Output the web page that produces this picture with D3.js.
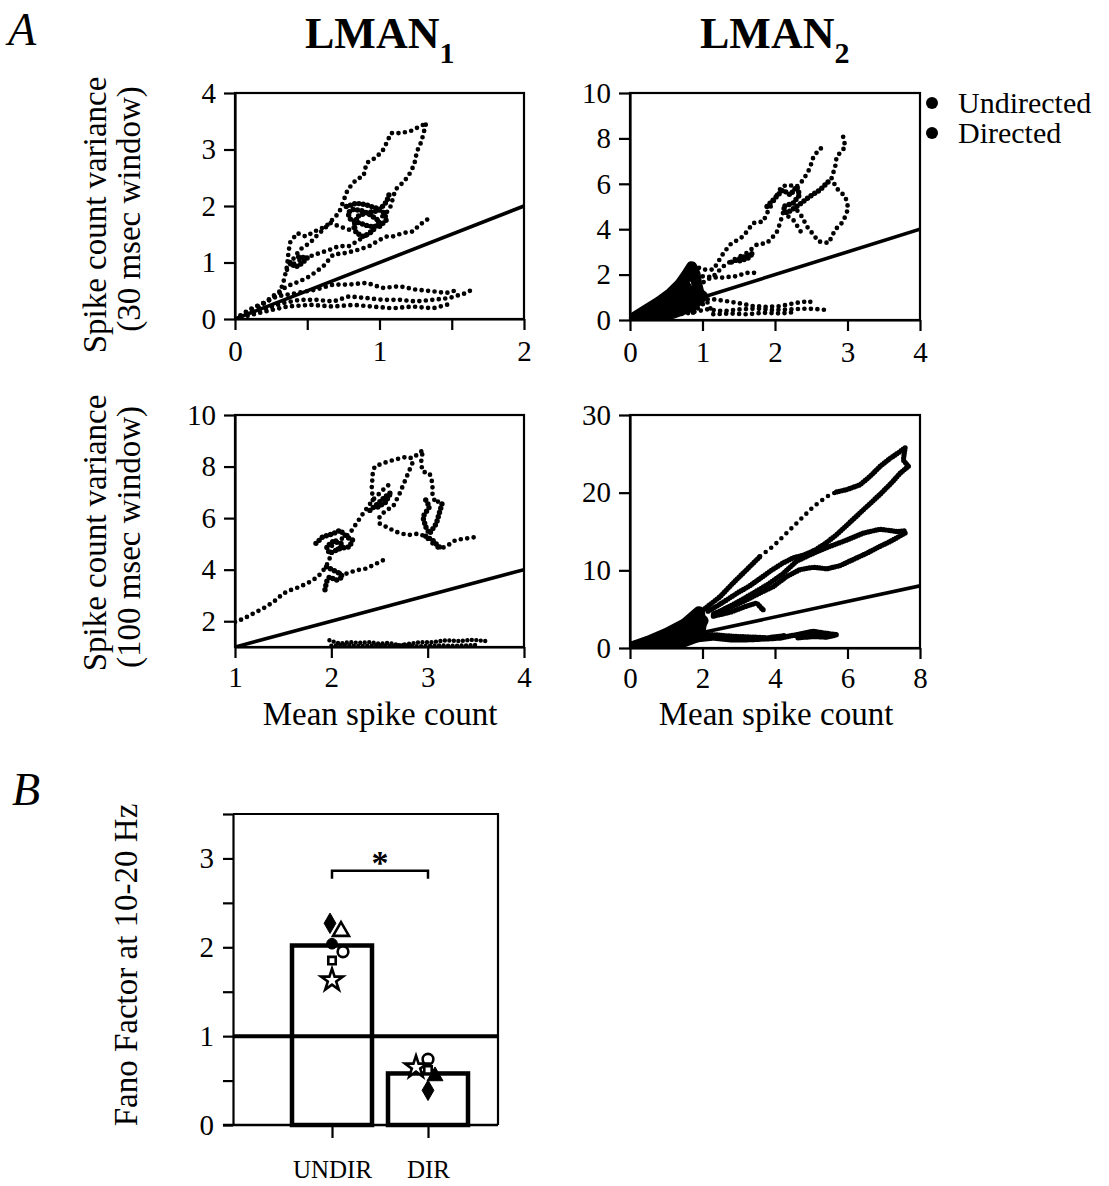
<!DOCTYPE html>
<html>
<head>
<meta charset="utf-8">
<script src="https://cdn.jsdelivr.net/npm/d3@7"></script>
<style>
  body { margin: 0; background: #fff; }
  svg text { font-family: "Liberation Serif", "Times New Roman", serif; fill: #000; }
</style>
</head>
<body>
<svg id="fig" width="1109" height="1186"></svg>
<script>
// ---------- data ----------
// A1: LMAN1, 30 msec window  (x: mean count, y: variance)
const a1Undirected = [
  [[0,0],[0.10,0.17],[0.22,0.31],[0.31,0.46],[0.34,0.70],[0.36,0.93],[0.37,1.17],[0.38,1.35],[0.43,1.52],[0.49,1.46],[0.55,1.55],[0.63,1.64],[0.72,1.88],[0.78,2.29],[0.84,2.47],[0.89,2.53],[0.91,2.76],[0.97,2.85],[1.02,2.97],[1.05,3.12],[1.08,3.29],[1.14,3.29],[1.21,3.32],[1.28,3.41],[1.34,3.48]],
  [[1.32,3.44],[1.29,3.14],[1.26,2.97],[1.24,2.73],[1.20,2.53],[1.16,2.41],[1.11,2.29],[1.09,2.11],[1.07,1.94],[1.02,1.82],[0.98,1.70],[0.93,1.52],[0.86,1.40],[0.79,1.29],[0.72,1.29],[0.66,1.23],[0.59,1.17],[0.52,1.11],[0.45,1.05],[0.38,0.93]],
  [[1.33,1.76],[1.28,1.67],[1.23,1.55],[1.16,1.52],[1.09,1.46],[1.05,1.46],[1.00,1.40],[0.93,1.29],[0.86,1.23],[0.77,1.17],[0.68,1.14],[0.61,0.93],[0.52,0.76],[0.45,0.67],[0.36,0.58],[0.26,0.40],[0.15,0.17]],
  [[0.36,0.87],[0.40,1.05],[0.45,1.23],[0.52,1.35],[0.56,1.46],[0.61,1.58],[0.66,1.70],[0.72,1.64],[0.79,1.58],[0.86,1.64]]
];
const a1Cluster = [
  [[0.77,1.99],[0.84,2.05],[0.91,2.02],[0.98,1.96],[1.03,1.88],[1.05,1.76],[1.00,1.64],[0.93,1.64],[0.86,1.70],[0.80,1.76],[0.78,1.88],[0.82,1.94],[0.89,1.91],[0.95,1.82],[1.00,1.73],[0.95,1.55],[0.89,1.46],[0.84,1.52],[0.82,1.64],[0.85,1.82],[0.91,1.88],[0.98,1.91],[1.02,1.99],[1.05,2.08],[1.07,2.23]],
  [[0.38,1.00],[0.42,0.92],[0.46,0.98],[0.50,1.08],[0.44,1.10]]
];
const a1Directed = [
  [[0,0],[0.10,0.11],[0.22,0.19],[0.33,0.28],[0.45,0.34],[0.56,0.34],[0.68,0.31],[0.79,0.40],[0.91,0.37],[1.02,0.34],[1.14,0.34],[1.25,0.31],[1.37,0.34],[1.48,0.37],[1.60,0.46],[1.64,0.52]],
  [[0,0],[0.15,0.22],[0.29,0.40],[0.43,0.46],[0.56,0.52],[0.68,0.61],[0.79,0.61],[0.91,0.64],[1.02,0.55],[1.14,0.58],[1.25,0.52],[1.37,0.49],[1.46,0.46],[1.55,0.52]],
  [[0,0],[0.17,0.11],[0.36,0.22],[0.52,0.25],[0.68,0.22],[0.82,0.25],[0.95,0.22],[1.09,0.19],[1.23,0.22],[1.37,0.19],[1.51,0.28]]
];

// A2: LMAN2, 30 msec window
const a2Undirected = [
  [[0,0],[0.23,0.47],[0.41,0.91],[0.60,1.20],[0.74,1.78],[0.83,2.30],[0.90,2.37],[1.01,2.22],[1.15,2.22],[1.29,2.95],[1.38,3.32],[1.56,3.68],[1.70,4.27],[1.84,4.34],[1.89,4.71],[1.98,5.22],[2.09,5.88],[2.18,5.95],[2.30,5.88],[2.39,6.17],[2.48,6.68],[2.53,7.19],[2.62,7.56],[2.71,7.56]],
  [[2.94,8.07],[2.97,7.63],[2.85,7.19],[2.83,6.75],[2.78,6.24],[2.85,5.80],[2.97,5.44],[3.01,4.93],[2.97,4.56],[2.92,4.27],[2.83,3.98],[2.74,3.39],[2.60,3.46],[2.53,3.76],[2.44,4.12],[2.37,4.56],[2.30,4.85]],
  [[0.69,1.20],[0.92,1.49],[1.15,1.93],[1.29,2.37],[1.43,2.66],[1.61,2.95],[1.75,3.32],[1.89,3.39],[2.02,3.83],[2.07,4.27],[2.11,4.71],[2.25,4.42],[2.34,3.98],[2.39,3.68]],
  [[0.83,1.78],[1.01,1.93],[1.24,1.86],[1.47,1.93],[1.61,2.08],[1.72,2.08]]
];
const a2Cluster = [
  [[1.89,5.00],[2.02,5.44],[2.11,5.73],[2.21,5.51],[2.30,5.88],[2.34,5.51],[2.25,5.15],[2.11,5.00],[2.16,4.71],[2.30,5.00],[2.48,5.44],[2.62,5.73],[2.76,6.17]],
  [[1.40,2.55],[1.55,2.75],[1.70,2.95],[1.62,2.70],[1.50,2.60]]
];
const a2Blob = [
  [[0,0],[0.20,0.40],[0.40,0.80],[0.55,1.15],[0.68,1.55],[0.78,2.00],[0.85,2.35],[0.90,2.00],[0.92,1.60],[0.95,1.20],[0.90,0.90],[0.75,0.70],[0.55,0.50],[0.35,0.30],[0.15,0.10]],
  [[0.10,0.10],[0.30,0.50],[0.50,0.85],[0.65,1.20],[0.75,1.60],[0.80,1.30],[0.85,0.90],[0.70,0.55],[0.50,0.35],[0.30,0.20]],
  [[0.20,0.20],[0.45,0.60],[0.60,0.90],[0.75,1.10],[0.90,1.30],[1.00,1.05],[0.85,0.60],[0.60,0.30],[0.40,0.15]]
];
const a2Directed = [
  [[0,0],[0.46,0.15],[0.83,0.32],[1.06,0.47],[1.29,0.39],[1.52,0.47],[1.75,0.50],[1.98,0.44],[2.21,0.47],[2.44,0.50],[2.62,0.47],[2.71,0.44]],
  [[0.83,1.20],[0.97,0.91],[1.15,0.91],[1.33,0.83],[1.52,0.73],[1.70,0.61],[1.89,0.58],[2.07,0.61],[2.30,0.76],[2.48,0.83],[2.53,0.61]],
  [[0.87,0.32],[0.97,0.61],[1.06,0.83],[1.15,0.25],[1.38,0.29],[1.61,0.25],[1.84,0.32],[2.07,0.29],[2.30,0.35]]
];

// A3: LMAN1, 100 msec window
const a3Undirected = [
  [[1.00,1.97],[1.09,2.10],[1.19,2.30],[1.29,2.49],[1.40,2.75],[1.50,3.07],[1.57,3.20],[1.67,3.33],[1.78,3.53],[1.86,3.72],[1.93,4.04],[1.98,4.37],[2.00,4.89],[2.05,5.15],[2.12,5.21],[2.19,5.40],[2.26,5.79],[2.33,6.18],[2.38,6.44],[2.43,6.70],[2.50,6.96],[2.57,7.22],[2.64,7.40]],
  [[2.43,6.70],[2.42,7.20],[2.43,7.74],[2.45,8.00],[2.53,8.12],[2.64,8.25],[2.78,8.38],[2.84,8.32],[2.91,8.51],[2.95,8.64],[2.93,8.12],[2.95,7.80],[3.02,7.74],[3.05,7.35],[3.05,6.83],[3.09,6.57],[3.12,6.70]],
  [[2.84,8.12],[2.71,6.96],[2.64,6.44],[2.57,6.31],[2.50,6.05],[2.50,5.79],[2.57,5.66],[2.67,5.47],[2.79,5.34],[2.91,5.40],[2.98,5.27],[3.05,5.02],[3.12,4.82],[3.19,4.89],[3.29,5.15],[3.40,5.21],[3.50,5.27]],
  [[2.09,3.85],[2.16,3.85],[2.26,3.98],[2.36,4.04],[2.47,4.24],[2.57,4.43]]
];
const a3Cluster = [
  [[1.84,5.02],[1.91,5.27],[2.02,5.40],[2.09,5.53],[2.16,5.27],[2.22,5.15],[2.19,4.89],[2.09,4.82],[1.98,4.63],[1.95,4.89],[2.02,5.10],[2.12,5.00],[2.05,4.70]],
  [[1.95,4.11],[2.02,3.98],[2.09,3.85],[2.12,3.72],[2.05,3.59],[1.98,3.72],[1.95,3.53],[1.93,3.14]],
  [[2.98,6.70],[3.02,6.44],[2.95,6.05],[2.98,5.66],[3.02,5.40],[3.09,5.79],[3.12,6.18],[3.16,6.70]],
  [[2.40,6.30],[2.48,6.55],[2.55,6.80],[2.62,7.00],[2.56,6.60],[2.47,6.40]],
  [[2.98,5.30],[3.05,5.15],[3.10,4.95],[3.15,4.80]]
];
const a3Directed = [
  [[1.98,1.26],[2.09,1.13],[2.19,1.19],[2.29,1.16],[2.40,1.19],[2.50,1.13],[2.60,1.16],[2.71,1.06],[2.81,1.13],[2.91,1.18],[3.05,1.19],[3.19,1.26],[3.33,1.23],[3.47,1.28],[3.60,1.23]],
  [[2.00,1.05],[2.15,1.08],[2.30,1.03],[2.45,1.07],[2.60,1.04],[2.75,1.08],[2.90,1.03],[3.10,1.06],[3.30,1.05],[3.50,1.08]]
];

// A4: LMAN2, 100 msec window
const a4Undirected = [
  [[0,0],[0.92,1.5],[1.66,3.2],[2.02,4.9],[2.48,6.6],[2.85,8.4],[3.22,10.1],[3.59,11.8]],
  [[5.70,20.1],[5.98,20.4],[6.34,21.0],[6.62,22.1],[6.90,23.4],[7.17,24.4],[7.45,25.3],[7.59,25.8],[7.54,24.2],[7.68,23.4]],
  [[7.68,23.4],[7.45,22.5],[7.20,21.2],[6.90,19.8],[6.60,18.5],[6.30,17.2],[6.00,15.9],[5.70,14.6],[5.40,13.5],[5.10,12.6],[4.80,12.0],[4.50,11.6],[4.20,10.9],[3.90,10.0],[3.60,9.0],[3.30,8.0],[3.00,7.2],[2.70,6.3],[2.40,5.4],[2.10,4.6]],
  [[2.30,4.3],[2.80,5.5],[3.30,6.8],[3.80,8.2],[4.20,9.5],[4.60,11.2],[5.06,12.2],[5.52,13.1],[5.98,13.9],[6.44,14.8],[6.90,15.3],[7.36,15.0],[7.59,15.1]],
  [[7.59,14.8],[7.17,13.7],[6.90,13.1],[6.53,12.2],[6.16,11.4],[5.79,10.6],[5.43,10.2],[5.06,10.4],[4.69,10.1],[4.32,9.2],[3.95,7.9],[3.59,7.1],[3.22,6.2],[2.76,5.2],[2.30,4.4]],
  [[2.30,4.1],[2.76,4.6],[3.22,5.4],[3.49,5.8],[3.68,4.9],[3.60,5.2]]
];
const a4Sparse = [
  [[3.59,11.8],[3.95,13.1],[4.32,14.8],[4.69,16.5],[5.06,18.2],[5.43,19.5],[5.70,20.1]]
];
const a4Blob = [
  [[0,0],[0.5,0.8],[1.0,1.8],[1.5,3.0],[1.9,4.6],[1.95,3.0],[1.9,1.6],[1.5,0.9],[1.0,0.5],[0.5,0.2]],
  [[0,0],[1.0,1.2],[1.6,2.4],[2.0,3.5],[1.8,2.2],[1.3,1.3],[0.8,0.6]]
];
const a4Directed = [
  [[0,0],[0.92,0.43],[1.84,1.07],[2.30,1.29],[2.76,1.07],[3.22,1.07],[3.68,1.16],[4.14,1.29],[4.60,1.71],[5.06,2.14],[5.33,1.93],[5.70,1.71],[5.43,1.41],[5.06,1.50],[4.60,1.30]],
  [[1.80,1.60],[2.30,1.70],[2.80,1.50],[3.30,1.40],[3.80,1.30],[4.30,1.60]]
];

// B: Fano factor at 10-20 Hz
const fanoCategories = ["UNDIR", "DIR"];
const fanoMeans = [2.02, 0.58];
const undirFano = [
  {shape: "diamond", filled: true, value: 2.27},
  {shape: "triangle", filled: false, value: 2.18},
  {shape: "circle", filled: true, value: 2.04},
  {shape: "circle", filled: false, value: 1.95},
  {shape: "square", filled: false, value: 1.85},
  {shape: "star", filled: false, value: 1.63}
];
const dirFano = [
  {shape: "circle", filled: false, value: 0.74},
  {shape: "star", filled: false, value: 0.65},
  {shape: "square", filled: false, value: 0.62},
  {shape: "triangle", filled: true, value: 0.55},
  {shape: "diamond", filled: true, value: 0.39}
];
const sigBracket = [2.77, 2.86];

// ---------- drawing ----------
const svg = d3.select("#fig");
const font = 29;

function styleAxis(g, size) {
  g.selectAll("path,line").attr("stroke", "#000").attr("stroke-width", 2.2);
  g.selectAll("text").style("font-size", size + "px");
}

function drawPanel(p) {
  const x = d3.scaleLinear().domain(p.xDomain).range([p.left, p.right]);
  const y = d3.scaleLinear().domain(p.yDomain).range([p.bottom, p.top]);
  const g = svg.append("g");

  const clipId = "clip" + p.id;
  svg.append("clipPath").attr("id", clipId)
    .append("rect").attr("x", p.left).attr("y", p.top)
    .attr("width", p.right - p.left).attr("height", p.bottom - p.top);

  const xa = g.append("g").attr("transform", `translate(0,${p.bottom})`)
    .call(d3.axisBottom(x).tickValues(p.xTicks).tickSize(11).tickSizeOuter(0).tickPadding(p.xPad)
      .tickFormat(d => p.xLabels.includes(d) ? String(d) : ""));
  styleAxis(xa, font);
  const ya = g.append("g").attr("transform", `translate(${p.left},0)`)
    .call(d3.axisLeft(y).tickValues(p.yTicks).tickSize(11).tickSizeOuter(0).tickPadding(8)
      .tickFormat(d => String(d)));
  styleAxis(ya, font);

  g.append("rect").attr("x", p.left).attr("y", p.top)
    .attr("width", p.right - p.left).attr("height", p.bottom - p.top)
    .attr("fill", "none").attr("stroke", "#000").attr("stroke-width", 2.2);

  const line = d3.line().x(d => x(d[0])).y(d => y(d[1]));
  const data = g.append("g").attr("clip-path", `url(#${clipId})`);

  (p.blob || []).forEach(s => {
    data.append("path").attr("d", line(s)).attr("fill", "none").attr("stroke", "#000")
      .attr("stroke-width", p.blobWidth).attr("stroke-linejoin", "round").attr("stroke-linecap", "round");
  });
  p.series.forEach(s => {
    s.tracks.forEach(tr => {
      data.append("path").attr("d", line(tr)).attr("fill", "none").attr("stroke", "#000")
        .attr("stroke-width", s.dot[0]).attr("stroke-linecap", "round")
        .attr("stroke-dasharray", `0 ${s.dot[1]}`);
    });
  });

  // unity line (variance = mean)
  const u = [p.xDomain[0], p.xDomain[1]];
  data.append("path").attr("d", line(u.map(v => [v, v])))
    .attr("stroke", "#000").attr("stroke-width", 3.6).attr("fill", "none");
}

const sparse = [4.7, 6.5], dense = [5.4, 4.4];
drawPanel({id: 1, xDomain: [0, 2], yDomain: [0, 4], left: 235, right: 524, top: 93, bottom: 319,
  xTicks: [0, 0.5, 1, 1.5, 2], xLabels: [0, 1, 2], yTicks: [0, 1, 2, 3, 4], xPad: 10,
  series: [{tracks: a1Undirected, dot: sparse}, {tracks: a1Cluster, dot: dense}, {tracks: a1Directed, dot: sparse}]});
drawPanel({id: 2, xDomain: [0, 4], yDomain: [0, 10], left: 630, right: 920, top: 93, bottom: 320,
  xTicks: [0, 1, 2, 3, 4], xLabels: [0, 1, 2, 3, 4], yTicks: [0, 2, 4, 6, 8, 10], xPad: 10,
  series: [{tracks: a2Undirected, dot: sparse}, {tracks: a2Cluster, dot: dense}, {tracks: a2Directed, dot: sparse}],
  blob: a2Blob, blobWidth: 11});
drawPanel({id: 3, xDomain: [1, 4], yDomain: [1, 10], left: 235, right: 524, top: 415, bottom: 647,
  xTicks: [1, 2, 3, 4], xLabels: [1, 2, 3, 4], yTicks: [2, 4, 6, 8, 10], xPad: 8,
  series: [{tracks: a3Undirected, dot: sparse}, {tracks: a3Cluster, dot: dense}, {tracks: a3Directed, dot: [4.4, 4.5]}]});
drawPanel({id: 4, xDomain: [0, 8], yDomain: [0, 30], left: 630, right: 920, top: 415, bottom: 648,
  xTicks: [0, 2, 4, 6, 8], xLabels: [0, 2, 4, 6, 8], yTicks: [0, 10, 20, 30], xPad: 8,
  series: [{tracks: a4Undirected, dot: [5.2, 2.6]}, {tracks: a4Sparse, dot: [4.6, 7]}, {tracks: a4Directed, dot: [5.5, 2.4]}],
  blob: a4Blob, blobWidth: 12});

// titles and labels for A
svg.append("text").attr("x", 8).attr("y", 45).style("font-size", "46px").style("font-style", "italic").text("A");
[["1", 305], ["2", 700]].forEach(([sub, xPos]) => {
  const t = svg.append("text").attr("x", xPos).attr("y", 48).style("font-size", "44px").style("font-weight", "bold");
  t.append("tspan").text("LMAN");
  t.append("tspan").attr("dy", 15).style("font-size", "30px").text(sub);
});
[[215, "Spike count variance", 106], [209, "(30 msec window)", 140],
 [533, "Spike count variance", 106], [537, "(100 msec window)", 140]].forEach(([cy, txt, bx]) => {
  svg.append("text").attr("transform", `translate(${bx},${cy}) rotate(-90)`)
    .attr("text-anchor", "middle").style("font-size", "33px").text(txt);
});
[380, 776].forEach(cx => {
  svg.append("text").attr("x", cx).attr("y", 725).attr("text-anchor", "middle")
    .style("font-size", "33px").text("Mean spike count");
});

// legend
[["Undirected", 103], ["Directed", 133]].forEach(([name, cy]) => {
  svg.append("circle").attr("cx", 932).attr("cy", cy).attr("r", 6).attr("fill", "#000");
  svg.append("text").attr("x", 958).attr("y", cy + 10).style("font-size", "30px").text(name);
});

// ---------- panel B ----------
const bLeft = 233, bRight = 498, bTop = 814, bBottom = 1125;
const yB = d3.scaleLinear().domain([0, 3.5]).range([bBottom, bTop]);
const xB = d3.scalePoint().domain(fanoCategories).range([332, 428]);
const barW = 80;
const gB = svg.append("g");

const yAxisB = gB.append("g").attr("transform", `translate(${bLeft},0)`)
  .call(d3.axisLeft(yB).tickValues(d3.range(0, 3.51, 0.5)).tickSize(10).tickSizeOuter(0).tickPadding(9)
    .tickFormat(d => Number.isInteger(d) ? String(d) : ""));
styleAxis(yAxisB, 29);

const xAxisB = gB.append("g").attr("transform", `translate(0,${bBottom})`)
  .call(d3.axisBottom(xB).tickSize(13).tickSizeOuter(0).tickPadding(22));
xAxisB.select(".domain").remove();
styleAxis(xAxisB, 25);
gB.append("line").attr("x1", bLeft - 10).attr("x2", bRight).attr("y1", bBottom).attr("y2", bBottom)
  .attr("stroke", "#000").attr("stroke-width", 2.5);
gB.append("polyline").attr("points", `${bLeft},${bTop} ${bRight},${bTop} ${bRight},${bBottom}`)
  .attr("fill", "none").attr("stroke", "#000").attr("stroke-width", 2.2);

gB.selectAll("rect.bar").data(fanoMeans).enter().append("rect").attr("class", "bar")
  .attr("x", (d, i) => xB(fanoCategories[i]) - barW / 2)
  .attr("y", d => yB(d))
  .attr("width", barW)
  .attr("height", d => yB(0) - yB(d))
  .attr("fill", "#fff").attr("stroke", "#000").attr("stroke-width", 4.5);

gB.append("line").attr("x1", bLeft).attr("x2", bRight).attr("y1", yB(1)).attr("y2", yB(1))
  .attr("stroke", "#000").attr("stroke-width", 4);

const shapeTypes = {diamond: d3.symbolDiamond, triangle: d3.symbolTriangle, circle: d3.symbolCircle,
  square: d3.symbolSquare, star: d3.symbolStar};
const shapeSize = {diamond: 120, triangle: 110, circle: 90, square: 55, star: 150};
const offsets = {UNDIR: [-2, 9, 0, 11, 0, 0], DIR: [0, -12, 0, 7, 0]};
[["UNDIR", undirFano], ["DIR", dirFano]].forEach(([cat, birds]) => {
  birds.forEach((b, i) => {
    gB.append("path")
      .attr("d", d3.symbol().type(shapeTypes[b.shape]).size(shapeSize[b.shape])())
      .attr("transform", `translate(${xB(cat) + offsets[cat][i]},${yB(b.value)})`)
      .attr("fill", b.filled ? "#000" : "#fff")
      .attr("stroke", "#000").attr("stroke-width", b.filled ? 1 : 2.6);
  });
});

// significance bracket
const yLo = yB(sigBracket[0]), yHi = yB(sigBracket[1]);
gB.append("path")
  .attr("d", `M${xB("UNDIR")},${yLo}V${yHi}H${xB("DIR")}V${yLo}`)
  .attr("fill", "none").attr("stroke", "#000").attr("stroke-width", 2.5);
gB.append("text").attr("x", (xB("UNDIR") + xB("DIR")) / 2).attr("y", yHi + 3)
  .attr("text-anchor", "middle").style("font-size", "34px").style("font-weight", "bold").text("*");

svg.append("text").attr("x", 12).attr("y", 805).style("font-size", "46px").style("font-style", "italic").text("B");
svg.append("text").attr("transform", `translate(137,965) rotate(-90)`).attr("text-anchor", "middle")
  .style("font-size", "33px").text("Fano Factor at 10-20 Hz");
</script>
</body>
</html>
